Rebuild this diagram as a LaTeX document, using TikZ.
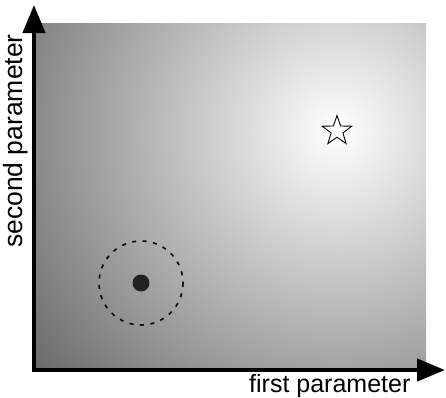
\documentclass[tikz,border=0pt]{standalone}
\usepackage{fontspec}
\setmainfont{Liberation Sans}
\usetikzlibrary{arrows.meta,shapes.geometric}
\definecolor{outergray}{gray}{0.40}
\definecolor{dotgray}{HTML}{222222}
\tikzset{
  axisline/.style={line width=4.5pt, line cap=rect, -{Triangle[length=28pt,width=22pt]}},
  axislabel/.style={inner sep=0pt, font=\fontsize{25}{25}\selectfont},
  region/.style={draw=black, line width=1.6pt, dash pattern=on 4pt off 6.5pt},
  optimum/.style={star, star points=5, star point ratio=2.5, minimum size=31pt, inner sep=0pt, draw=black, line width=0.9pt, fill=white},
  estimate/.style={circle, fill=dotgray, minimum size=17pt, inner sep=0pt}
}
\begin{document}
\begin{tikzpicture}[x=1pt,y=-1pt]
\useasboundingbox (0,0) rectangle (446,397);
\coordinate (origin) at (34,370);
\coordinate (ytip) at (34,5);
\coordinate (xtip) at (445,370);
\coordinate (best) at (337,131);
\coordinate (cur) at (141,283);
\begin{scope}
  \clip (34,23) rectangle (426,370);
  \shade[inner color=white, outer color=outergray] (best) circle (395);
\end{scope}
\draw[axisline] (origin) -- (ytip);
\draw[axisline] (origin) -- (xtip);
\node[axislabel, anchor=base west] (xl) at (249,392) {first parameter};
\node[axislabel, anchor=base west, rotate=90, font=\fontsize{26.5}{26.5}\selectfont] (yl) at (22,248) {second parameter};
\draw[region] (cur) circle (42);
\node[estimate] (dot) at (cur) {};
\node[optimum] (star) at (best) {};
\end{tikzpicture}
\end{document}
